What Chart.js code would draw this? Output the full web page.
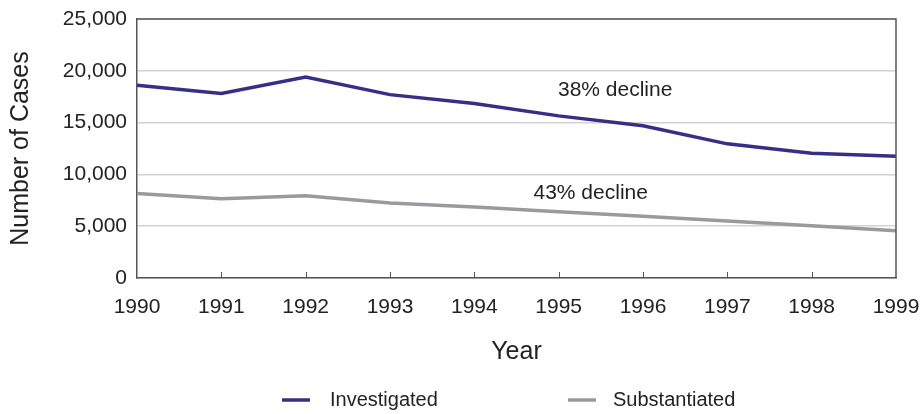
<!DOCTYPE html>
<html>
<head>
<meta charset="utf-8">
<script src="https://cdn.jsdelivr.net/npm/chart.js@4.4.1/dist/chart.umd.min.js"></script>
<style>
  html, body { margin: 0; padding: 0; background: #fff; }
  #wrap { width: 922px; height: 414px; }
</style>
</head>
<body>
<div id="wrap"><canvas id="casesChart" width="922" height="414"></canvas></div>
<script>
// values
var years = ['1990', '1991', '1992', '1993', '1994', '1995', '1996', '1997', '1998', '1999'];
var investigated = [18600, 17800, 19400, 17700, 16850, 15650, 14700, 12950, 12050, 11750];
var substantiated = [8150, 7650, 7950, 7250, 6850, 6400, 5950, 5500, 5050, 4550];
var yTicks = [0, 5000, 10000, 15000, 20000, 25000];

var FONT = "'Liberation Sans', Arial, sans-serif";
var TEXT = '#222';
var AXIS = '#555';

// plot frame, inward x ticks, notes and legend
var extras = {
    id: 'extras',
    afterDatasetsDraw: function (chart) {
        var ctx = chart.ctx, a = chart.chartArea;
        var xs = chart.scales.x, ys = chart.scales.y;
        ctx.save();
        ctx.strokeStyle = AXIS;
        ctx.lineWidth = 1.5;
        ctx.beginPath();
        ctx.moveTo(a.left, a.top);
        ctx.lineTo(a.right, a.top);
        ctx.lineTo(a.right, a.bottom);
        ctx.stroke();
        ctx.lineWidth = 1;
        for (var i = 1; i < years.length - 1; i++) {
            var px = Math.round(xs.getPixelForValue(i)) + 0.5;
            ctx.beginPath();
            ctx.moveTo(px, a.bottom);
            ctx.lineTo(px, a.bottom - 6);
            ctx.stroke();
        }

        ctx.fillStyle = TEXT;
        ctx.font = '21px ' + FONT;
        ctx.textAlign = 'center';
        ctx.textBaseline = 'middle';
        ctx.fillText('38% decline', xs.getPixelForValue(5.67), ys.getPixelForValue(18150));
        ctx.fillText('43% decline', xs.getPixelForValue(5.38), ys.getPixelForValue(8200));

        // legend
        var items = [[282, 330], [568, 613]];
        ctx.font = '20px ' + FONT;
        ctx.textAlign = 'left';
        chart.data.datasets.forEach(function (ds, k) {
            ctx.strokeStyle = ds.borderColor;
            ctx.lineWidth = 3.5;
            ctx.beginPath();
            ctx.moveTo(items[k][0], 400);
            ctx.lineTo(items[k][0] + 28, 400);
            ctx.stroke();
            ctx.fillStyle = TEXT;
            ctx.fillText(ds.label, items[k][1], 400);
        });
        ctx.restore();
    }
};

new Chart(document.getElementById('casesChart'), {
    type: 'line',
    data: {
        labels: years,
        datasets: [{
            label: 'Investigated',
            data: investigated,
            borderColor: '#352f86',
            borderWidth: 3.5,
            pointRadius: 0,
            tension: 0
        }, {
            label: 'Substantiated',
            data: substantiated,
            borderColor: '#9a9a9e',
            borderWidth: 3.5,
            pointRadius: 0,
            tension: 0
        }]
    },
    options: {
        responsive: false,
        animation: false,
        layout: { padding: { top: 19, right: 26, left: 0, bottom: 0 } },
        plugins: {
            legend: { display: false },
            tooltip: { enabled: false }
        },
        scales: {
            x: {
                offset: false,
                grid: { display: false },
                border: { color: AXIS, width: 1.5 },
                ticks: { color: TEXT, font: { family: FONT, size: 21 }, padding: 9, maxRotation: 0, autoSkip: false },
                title: { display: true, text: 'Year', color: TEXT, font: { family: FONT, size: 25 }, padding: { top: 0, bottom: 47 } },
                afterFit: function (s) { s.height = 136; s.paddingLeft = 0; s.paddingRight = 0; }
            },
            y: {
                min: 0,
                max: 25000,
                afterBuildTicks: function (s) { s.ticks = yTicks.map(function (v) { return { value: v }; }); },
                grid: { color: '#d2d2d2', lineWidth: 1.5, drawTicks: false },
                border: { color: AXIS, width: 1.5 },
                ticks: {
                    color: TEXT,
                    font: { family: FONT, size: 21 },
                    padding: 10,
                    callback: function (v) { return Number(v).toLocaleString('en-US'); }
                },
                title: { display: true, text: 'Number of Cases', color: TEXT, font: { family: FONT, size: 25 }, padding: { top: 6, bottom: 0 } },
                afterFit: function (s) { s.width = 137; s.paddingTop = 0; s.paddingBottom = 0; }
            }
        }
    },
    plugins: [extras]
});
</script>
</body>
</html>
